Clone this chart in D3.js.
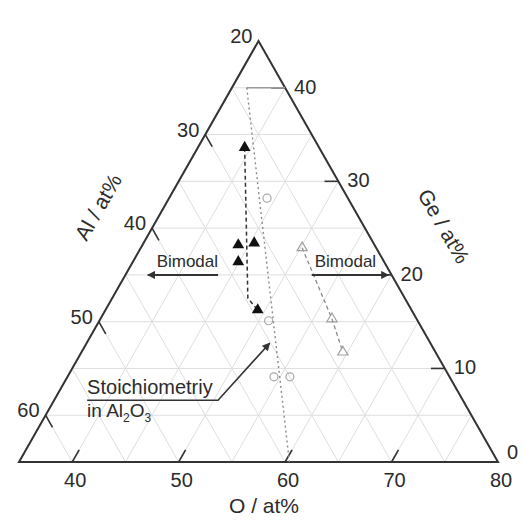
<!DOCTYPE html>
<html>
<head>
<meta charset="utf-8">
<script src="https://cdn.jsdelivr.net/npm/d3@7"></script>
<style>
  html, body { margin: 0; padding: 0; background: #fff; }
  text { font-family: "Liberation Sans", Arial, sans-serif; fill: #2b2b2b; }
</style>
</head>
<body>
<svg id="chart" width="531" height="522"></svg>
<script>
// Composition window of the Al–Ge–O diagram (at%): Al 20–65, Ge 0–45, O 35–80
const axisMin = { Al: 20, Ge: 0, O: 35 };
const span = 45;

// Tick labels on each edge
const alTicks = [20, 30, 40, 50, 60];
const geTicks = [0, 10, 20, 30, 40];
const oTicks = [40, 50, 60, 70, 80];
const gridStep = 5;

// Compositions as [Al, Ge, O] in at%
const filledSamples = [
  [27.0, 33.6, 39.4],
  [32.8, 23.2, 44.0],
  [31.2, 23.4, 45.4],
  [33.7, 21.4, 44.9],
  [34.45, 16.25, 49.3]
];
const filledTrend = [
  [27.0, 33.6, 39.4],
  [34.75, 17.5, 47.75],
  [34.45, 16.25, 49.3]
];
const openCircleSamples = [
  [27.6, 28.2, 44.2],
  [34.0, 15.1, 50.9],
  [36.5, 9.1, 54.4],
  [35.0, 9.1, 55.9]
];
const openTriangleSamples = [
  [26.95, 22.9, 50.15],
  [27.95, 15.3, 56.75],
  [28.7, 11.75, 59.55]
];
// Al2O3 stoichiometry (Al:O = 2:3) and its cap at Ge = 40
const stoichLine = [[23.6, 40, 36.4], [39.6, 0, 60.4]];
const stoichCap = [[20, 40, 40], [23.6, 40, 36.4]];

// Annotation anchors
const stoichArrow = [[55.3, 6.6, 38.1], [43.0, 6.6, 50.4], [35.1, 12.7, 52.2]];
const bimodalLeft = [[36.3, 20, 43.7], [42.9, 20, 37.1]];
const bimodalRight = [[27.5, 20, 52.5], [20.3, 20, 59.7]];

const svg = d3.select("#chart");

// Cartesian scales for the triangle: u = O' + Ge'/2, v = Ge'
const xScale = d3.scaleLinear().domain([0, span]).range([19, 498]);
const yScale = d3.scaleLinear().domain([0, span]).range([462, 41]);

function proj(c) {
  const g = c[1] - axisMin.Ge;
  const o = c[2] - axisMin.O;
  return [xScale(o + g / 2), yScale(g)];
}
const line = d3.line().x(d => proj(d)[0]).y(d => proj(d)[1]);

// Arrow marker
const defs = svg.append("defs");
defs.append("marker")
  .attr("id", "arrow")
  .attr("viewBox", "0 0 10 10")
  .attr("refX", 9).attr("refY", 5)
  .attr("markerWidth", 10).attr("markerHeight", 8)
  .attr("markerUnits", "userSpaceOnUse")
  .attr("orient", "auto")
  .append("path").attr("d", "M0,0L10,5L0,10z").attr("fill", "#333");

// Grid lines every 5 at%
const gridG = svg.append("g").attr("stroke", "#dedede").attr("stroke-width", 1).attr("fill", "none");
for (let k = gridStep; k < span; k += gridStep) {
  // constant Ge
  const ge = axisMin.Ge + k;
  gridG.append("path").attr("d", line([[100 - ge - axisMin.O, ge, axisMin.O], [axisMin.Al, ge, 100 - ge - axisMin.Al]]));
  // constant O
  const o = axisMin.O + k;
  gridG.append("path").attr("d", line([[100 - o - axisMin.Ge, axisMin.Ge, o], [axisMin.Al, 100 - o - axisMin.Al, o]]));
  // constant Al
  const al = axisMin.Al + k;
  gridG.append("path").attr("d", line([[al, 100 - al - axisMin.O, axisMin.O], [al, axisMin.Ge, 100 - al - axisMin.Ge]]));
}

// Triangle frame
const corners = [
  [axisMin.Al + span, axisMin.Ge, axisMin.O],
  [axisMin.Al, axisMin.Ge + span, axisMin.O],
  [axisMin.Al, axisMin.Ge, axisMin.O + span]
];
svg.append("path")
  .attr("d", line(corners) + "Z")
  .attr("fill", "none").attr("stroke", "#333").attr("stroke-width", 2)
  .attr("stroke-linejoin", "miter");

// Tick marks and labels
const tickLen = 1.3;
const tickG = svg.append("g").attr("stroke", "#333").attr("stroke-width", 1.6);
const labelG = svg.append("g").attr("font-size", 20);

// Al along left edge (O = 35)
alTicks.forEach(v => {
  const p0 = [v, 100 - v - axisMin.O, axisMin.O];
  if (v > axisMin.Al) {
    tickG.append("path").attr("d", line([p0, [v, p0[1] - tickLen, axisMin.O + tickLen]]));
  }
  const [x, y] = proj(p0);
  labelG.append("text").attr("x", x - 6).attr("y", y - 5)
    .attr("text-anchor", "end").attr("dominant-baseline", "central").text(v);
});

// Ge along right edge (Al = 20)
geTicks.forEach(v => {
  const p0 = [axisMin.Al, v, 100 - v - axisMin.Al];
  if (v > axisMin.Ge) {
    tickG.append("path").attr("d", line([p0, [axisMin.Al + tickLen, v, p0[2] - tickLen]]));
  }
  const [x, y] = proj(p0);
  labelG.append("text").attr("x", x + 9).attr("y", v === axisMin.Ge ? y - 10 : y - 1)
    .attr("text-anchor", "start").attr("dominant-baseline", "central").text(v);
});

// O along bottom edge (Ge = 0)
oTicks.forEach(v => {
  const p0 = [100 - v - axisMin.Ge, axisMin.Ge, v];
  if (v < axisMin.O + span) {
    tickG.append("path").attr("d", line([p0, [p0[0] - tickLen, axisMin.Ge + tickLen, v]]));
  }
  const [x, y] = proj(p0);
  labelG.append("text").attr("x", x + 3).attr("y", y + 18)
    .attr("text-anchor", "middle").attr("dominant-baseline", "central").text(v);
});

// Axis titles
const titleSize = 21;
svg.append("text").attr("font-size", titleSize).attr("text-anchor", "middle").attr("dominant-baseline", "central")
  .attr("transform", "translate(264,505)").text("O / at%");
svg.append("text").attr("font-size", titleSize).attr("text-anchor", "middle").attr("dominant-baseline", "central")
  .attr("transform", "translate(98,207) rotate(-60)").text("Al / at%");
svg.append("text").attr("font-size", titleSize).attr("text-anchor", "middle").attr("dominant-baseline", "central")
  .attr("transform", "translate(444,226) rotate(60)").text("Ge / at%");

// Stoichiometry reference line
svg.append("path").attr("d", line(stoichCap))
  .attr("fill", "none").attr("stroke", "#9a9a9a").attr("stroke-width", 1.4);
svg.append("path").attr("d", line(stoichLine))
  .attr("fill", "none").attr("stroke", "#8a8a8a").attr("stroke-width", 1.4)
  .attr("stroke-dasharray", "2,3");

// Trend lines
svg.append("path").attr("d", line(filledTrend))
  .attr("fill", "none").attr("stroke", "#333").attr("stroke-width", 1.5)
  .attr("stroke-dasharray", "4,3");
svg.append("path").attr("d", line(openTriangleSamples))
  .attr("fill", "none").attr("stroke", "#8a8a8a").attr("stroke-width", 1.3)
  .attr("stroke-dasharray", "4,3");

// Open circle samples
svg.append("g").selectAll("circle").data(openCircleSamples).join("circle")
  .attr("cx", d => proj(d)[0]).attr("cy", d => proj(d)[1]).attr("r", 4)
  .attr("fill", "none").attr("stroke", "#a8a8a8").attr("stroke-width", 1.2);

// Open triangle samples
const triSym = d3.symbol().type(d3.symbolTriangle);
svg.append("g").selectAll("path").data(openTriangleSamples).join("path")
  .attr("transform", d => `translate(${proj(d)[0]},${proj(d)[1]})`)
  .attr("d", triSym.size(45)())
  .attr("fill", "none").attr("stroke", "#a0a0a0").attr("stroke-width", 1.2);

// Filled triangle samples
svg.append("g").selectAll("path").data(filledSamples).join("path")
  .attr("transform", d => `translate(${proj(d)[0]},${proj(d)[1]})`)
  .attr("d", d3.symbol().type(d3.symbolTriangle).size(60)())
  .attr("fill", "#111");

// Bimodal annotations
const annG = svg.append("g");
[bimodalLeft, bimodalRight].forEach(seg => {
  annG.append("path").attr("d", line(seg))
    .attr("fill", "none").attr("stroke", "#333").attr("stroke-width", 2)
    .attr("marker-end", "url(#arrow)");
});
const bl0 = proj(bimodalLeft[0]);
annG.append("text").attr("x", bl0[0]).attr("y", bl0[1] - 8)
  .attr("font-size", 17).attr("text-anchor", "end").text("Bimodal");
const br0 = proj(bimodalRight[0]);
annG.append("text").attr("x", br0[0] + 3).attr("y", br0[1] - 8)
  .attr("font-size", 17).attr("text-anchor", "start").text("Bimodal");

// Stoichiometry callout
annG.append("path").attr("d", line(stoichArrow))
  .attr("fill", "none").attr("stroke", "#333").attr("stroke-width", 1.6)
  .attr("marker-end", "url(#arrow)");
const s0 = proj(stoichArrow[0]);
annG.append("text").attr("x", s0[0]).attr("y", s0[1] - 6)
  .attr("font-size", 20).text("Stoichiometriy");
const t2 = annG.append("text").attr("x", s0[0]).attr("y", s0[1] + 17).attr("font-size", 19);
t2.append("tspan").text("in Al");
t2.append("tspan").attr("font-size", 12).attr("dy", 5).text("2");
t2.append("tspan").attr("dy", -5).text("O");
t2.append("tspan").attr("font-size", 12).attr("dy", 5).text("3");
</script>
</body>
</html>
